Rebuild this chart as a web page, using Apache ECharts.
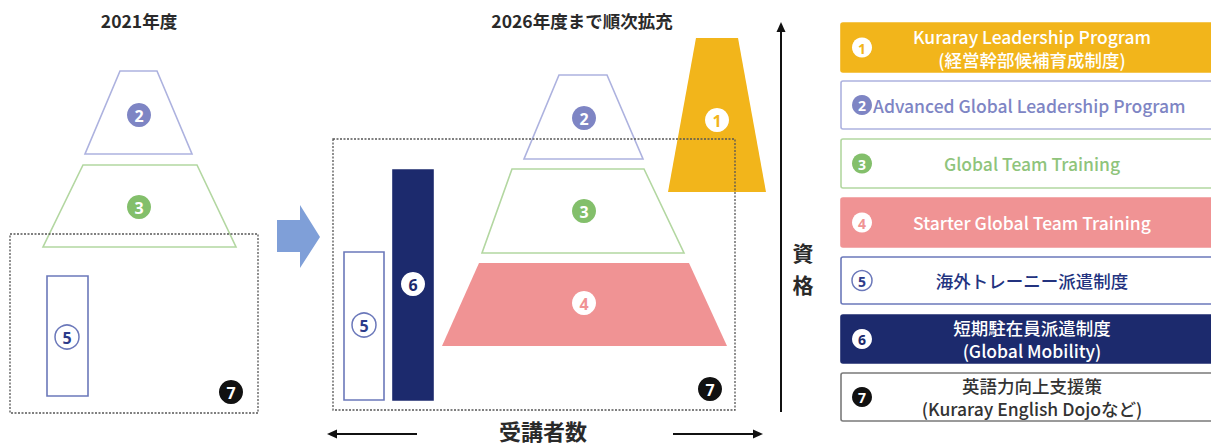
<!DOCTYPE html>
<html><head><meta charset="utf-8">
<script src="https://cdn.jsdelivr.net/npm/echarts@6/dist/echarts.min.js"></script>
<style>html,body{margin:0;padding:0;background:#fff}#c{width:1211px;height:448px}</style>
</head><body><div id="c"></div>
<script>
// ---- content ----
const panelTitles = ['2021年度', '2026年度まで順次拡充'];
const axisTitleX = '受講者数';
const axisTitleY = ['資', '格'];
const programLabels = [
  ['Kuraray Leadership Program', '(経営幹部候補育成制度)'],
  ['Advanced Global Leadership Program'],
  ['Global Team Training'],
  ['Starter Global Team Training'],
  ['海外トレーニー派遣制度'],
  ['短期駐在員派遣制度', '(Global Mobility)'],
  ['英語力向上支援策', '(Kuraray English Dojoなど)']
];
// Trapezoids (diagram units): [program, topY, bottomY, topLeft, topRight, bottomLeft, bottomRight]
const trap2021 = [[2, 71, 154, 120, 157, 85, 192], [3, 165, 247, 83, 197, 43, 236]];
const trap2026 = [[1, 38, 192, 696, 738, 668, 766], [2, 75, 159, 559, 607, 524, 643],
                  [3, 169, 253, 512, 644, 482, 684], [4, 263, 346, 479, 689, 442, 727]];
// Bars: [program, left, right, top, bottom]
const bars2021 = [[5, 47, 88, 276, 396]];
const bars2026 = [[5, 344, 384, 252, 400], [6, 393, 433, 170, 400]];
// Dotted areas for program 7: [program, left, right, top, bottom]
const areas = [[7, 10, 258, 234, 413], [7, 333, 735, 139, 410]];
// Number markers: [program, x, y]
const markers = [[2, 139, 115], [3, 139, 207], [5, 67, 337], [7, 231, 392],
                 [1, 717, 120], [2, 584, 118], [3, 584, 211], [4, 584, 303],
                 [5, 364, 325], [6, 413, 284], [7, 710, 389]];
// Legend rows: [program, top, bottom]
const legendRows = [[1, 23, 72], [2, 81, 129], [3, 139, 188], [4, 198, 247], [5, 257, 304], [6, 315, 363], [7, 373, 421]];
// Transition arrow outline (diagram units)
const bigArrowX = [277, 300, 300, 320, 300, 300, 277];
const bigArrowY = [220, 220, 205, 237, 268, 252, 252];
// Guide arrows: [x1, y1, x2, y2]
const guides = [[781, 412, 781, 24], [417, 434, 329, 434], [673, 434, 761, 434]];

// ---- styles ----
const ST = {
  1: {fill: '#f2b51b', stroke: null, mFill: '#fff', mText: '#f2b51b', lText: '#fff'},
  2: {fill: null, stroke: '#adb2df', mFill: '#7e85c4', mText: '#fff', lText: '#7e85c4'},
  3: {fill: null, stroke: '#b3d7a1', mFill: '#83bf6b', mText: '#fff', lText: '#8fc47c'},
  4: {fill: '#f09394', stroke: null, mFill: '#fff', mText: '#f09394', lText: '#fff'},
  5: {fill: null, stroke: '#6b78ba', mFill: '#fff', mStroke: '#6b78ba', mText: '#2c3b8a', lText: '#23337f'},
  6: {fill: '#1c2a6d', stroke: null, mFill: '#fff', mText: '#1c2a6d', lText: '#fff'},
  7: {fill: null, stroke: '#7a7a7a', mFill: '#111', mText: '#fff', lText: '#333'}
};
const JP = '"Noto Sans CJK JP", "Noto Sans", sans-serif';
const CLEAR = 'rgba(0,0,0,0)';

function marker(api, id, x, y, r, fs) {
  const s = ST[id], c = api.coord([x, y]);
  return [
    {type: 'circle', shape: {cx: c[0], cy: c[1], r: r},
     style: {fill: s.mFill, stroke: s.mStroke || null, lineWidth: 1.5}},
    {type: 'text', style: {x: c[0], y: c[1] + 0.5, text: String(id), fill: s.mText,
      font: 'bold ' + fs + 'px "Noto Sans", sans-serif', align: 'center', verticalAlign: 'middle'}}
  ];
}

const chart = echarts.init(document.getElementById('c'), null, {renderer: 'svg'});
chart.setOption({
  animation: false,
  grid: {left: 0, right: 0, top: 0, bottom: 0},
  xAxis: {type: 'value', min: 0, max: 1211, show: false},
  yAxis: {type: 'value', min: 0, max: 448, inverse: true, show: false},
  series: [
    { // trapezoids
      type: 'custom', clip: false, data: trap2021.concat(trap2026),
      renderItem: (p, api) => {
        const id = api.value(0), t = api.value(1), b = api.value(2), s = ST[id];
        return {type: 'polygon', shape: {points: [
          api.coord([api.value(3), t]), api.coord([api.value(4), t]),
          api.coord([api.value(6), b]), api.coord([api.value(5), b])]},
          style: {fill: s.fill || CLEAR, stroke: s.stroke, lineWidth: 1.6}};
      }
    },
    { // bars
      type: 'custom', clip: false, data: bars2021.concat(bars2026),
      renderItem: (p, api) => {
        const id = api.value(0), s = ST[id];
        const a = api.coord([api.value(1), api.value(3)]), b = api.coord([api.value(2), api.value(4)]);
        return {type: 'rect', shape: {x: a[0], y: a[1], width: b[0] - a[0], height: b[1] - a[1]},
          style: {fill: s.fill || CLEAR, stroke: s.stroke || s.fill, lineWidth: 1.6}};
      }
    },
    { // dotted areas
      type: 'custom', clip: false, data: areas,
      renderItem: (p, api) => {
        const a = api.coord([api.value(1), api.value(3)]), b = api.coord([api.value(2), api.value(4)]);
        return {type: 'rect', shape: {x: a[0], y: a[1], width: b[0] - a[0], height: b[1] - a[1]},
          style: {fill: CLEAR, stroke: '#555', lineWidth: 1.3, lineDash: [2, 1.5]}};
      }
    },
    { // markers
      type: 'custom', clip: false, data: markers,
      renderItem: (p, api) => ({type: 'group',
        children: marker(api, api.value(0), api.value(1), api.value(2), 12, 16)})
    },
    { // transition arrow
      type: 'custom', clip: false, data: [0],
      renderItem: (p, api) => ({type: 'polygon',
        shape: {points: bigArrowX.map((x, i) => api.coord([x, bigArrowY[i]]))},
        style: {fill: '#7f9fd8'}})
    },
    { // guide arrows
      type: 'custom', clip: false, data: guides,
      renderItem: (p, api) => {
        const a = api.coord([api.value(0), api.value(1)]), b = api.coord([api.value(2), api.value(3)]);
        const dx = b[0] - a[0], dy = b[1] - a[1], L = Math.hypot(dx, dy), ux = dx / L, uy = dy / L;
        const hl = 10, hw = 4.5;
        const tip = [b[0] + ux * 2, b[1] + uy * 2];
        const base = [tip[0] - ux * hl, tip[1] - uy * hl];
        return {type: 'group', children: [
          {type: 'line', shape: {x1: a[0], y1: a[1], x2: base[0], y2: base[1]}, style: {stroke: '#111', lineWidth: 2}},
          {type: 'polygon', shape: {points: [tip, [base[0] - uy * hw, base[1] + ux * hw], [base[0] + uy * hw, base[1] - ux * hw]]},
            style: {fill: '#111'}}
        ]};
      }
    },
    { // legend rows
      type: 'custom', clip: false, data: legendRows,
      renderItem: (p, api) => {
        const id = api.value(0), s = ST[id];
        const a = api.coord([841, api.value(1)]), b = api.coord([1222, api.value(2)]);
        const cy = (a[1] + b[1]) / 2;
        const lines = programLabels[id - 1];
        const ch = [
          {type: 'rect', shape: {x: a[0], y: a[1], width: b[0] - a[0], height: b[1] - a[1], r: 2},
            style: {fill: s.fill || '#fff', stroke: s.stroke || s.fill, lineWidth: 1.6}}
        ].concat(marker(api, id, 862, api.value(1) + (api.value(2) - api.value(1)) / 2, 10, 14));
        const left = id === 2;
        const tx = left ? api.coord([873, 0])[0] : api.coord([1032, 0])[0];
        const lh = 23;
        lines.forEach((t, i) => {
          ch.push({type: 'text', style: {x: tx, y: cy + (i - (lines.length - 1) / 2) * lh,
            text: t, fill: s.lText, font: '500 17.5px ' + JP, lineHeight: 20,
            align: left ? 'left' : 'center', verticalAlign: 'middle'}});
        });
        return {type: 'group', children: ch};
      }
    },
    { // text labels
      type: 'custom', clip: false, data: [[139, 20, 0], [582, 20, 1], [543, 430, 2], [803, 252, 3], [803, 284, 4]],
      renderItem: (p, api) => {
        const k = api.value(2), c = api.coord([api.value(0), api.value(1)]);
        const txt = [panelTitles[0], panelTitles[1], axisTitleX, axisTitleY[0], axisTitleY[1]][k];
        const fs = k < 2 ? 17.5 : (k === 2 ? 22 : 21);
        return {type: 'text', style: {x: c[0], y: c[1], text: txt, fill: '#2a2a2a',
          font: 'bold ' + fs + 'px ' + JP, align: 'center', verticalAlign: 'middle'}};
      }
    }
  ]
});
</script>
</body></html>
